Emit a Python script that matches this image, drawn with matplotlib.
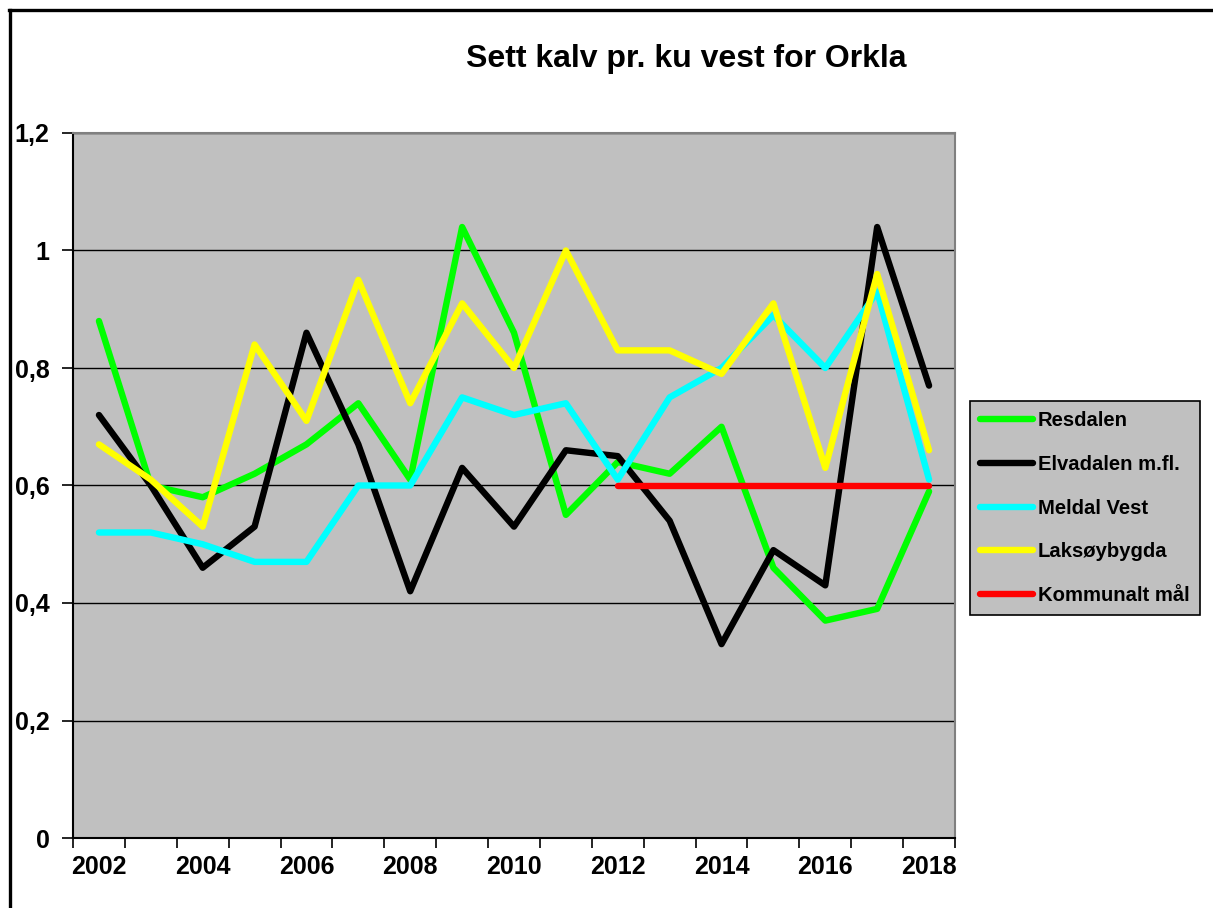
import matplotlib
matplotlib.use("Agg")
from matplotlib import pyplot as plt
from matplotlib.lines import Line2D
from matplotlib.ticker import MultipleLocator, FixedLocator, FuncFormatter
import numpy as np

years = list(range(2002, 2019))
resdalen = [0.88, 0.60, 0.58, 0.62, 0.67, 0.74, 0.61, 1.04, 0.86, 0.55, 0.64, 0.62, 0.70, 0.46, 0.37, 0.39, 0.59]
elvadalen = [0.72, 0.60, 0.46, 0.53, 0.86, 0.67, 0.42, 0.63, 0.53, 0.66, 0.65, 0.54, 0.33, 0.49, 0.43, 1.04, 0.77]
meldal_vest = [0.52, 0.52, 0.50, 0.47, 0.47, 0.60, 0.60, 0.75, 0.72, 0.74, 0.61, 0.75, 0.80, 0.89, 0.80, 0.93, 0.61]
laksoybygda = [0.67, 0.61, 0.53, 0.84, 0.71, 0.95, 0.74, 0.91, 0.80, 1.00, 0.83, 0.83, 0.79, 0.91, 0.63, 0.96, 0.66]
maal_years = list(range(2012, 2019))
maal = [0.60, 0.60, 0.60, 0.60, 0.60, 0.60, 0.60]

series = [
    ("Resdalen", years, resdalen, "#00FF00"),
    ("Elvadalen m.fl.", years, elvadalen, "#000000"),
    ("Meldal Vest", years, meldal_vest, "#00FFFF"),
    ("Laksøybygda", years, laksoybygda, "#FFFF00"),
    ("Kommunalt mål", maal_years, maal, "#FF0000"),
]

plt.rcParams['font.family'] = ['Liberation Sans', 'DejaVu Sans']
plt.rcParams['font.weight'] = 'bold'

W, H = 1213, 908
fig = plt.figure(figsize=(W / 100, H / 100), dpi=100)
ax = fig.add_axes([73 / W, 1 - 838 / H, (955 - 73) / W, (838 - 133) / H])
ax.set_facecolor("#C0C0C0")

for name, xs, ys, col in series:
    ax.plot(xs, ys, color=col, lw=4.6, label=name, solid_capstyle='round', solid_joinstyle='round')

ax.set_xlim(2001.5, 2018.5)
ax.set_ylim(0, 1.2)

# y axis
ax.yaxis.set_major_locator(MultipleLocator(0.2))
ax.yaxis.set_major_formatter(FuncFormatter(lambda v, p: ("%g" % round(v, 1)).replace(".", ",")))
ax.grid(axis='y', color='black', lw=1.0)
ax.set_axisbelow(True)

# x axis: tick marks between categories, labels every 2nd year
ax.xaxis.set_major_locator(FixedLocator(np.arange(2001.5, 2019, 1.0)))
ax.xaxis.set_major_formatter(FuncFormatter(lambda v, p: ""))
ax.xaxis.set_minor_locator(FixedLocator(years[::2]))
ax.xaxis.set_minor_formatter(FuncFormatter(lambda v, p: "%d" % v))
ax.tick_params(axis='x', which='major', direction='out', length=7, width=1.2, color='black')
ax.tick_params(axis='x', which='minor', length=0, pad=12, labelsize=18)
ax.tick_params(axis='y', direction='out', length=8, width=1.2, pad=9, labelsize=18)

for side in ['left', 'bottom']:
    ax.spines[side].set_color('black')
    ax.spines[side].set_linewidth(1.5)
for side in ['top', 'right']:
    ax.spines[side].set_color('#808080')
    ax.spines[side].set_linewidth(1.5)

fig.text(686 / W, 1 - 59 / H, "Sett kalv pr. ku vest for Orkla", ha='center', va='center',
         fontsize=23, fontweight='bold')

leg = ax.legend(loc='upper left', bbox_to_anchor=(970 / W, 1 - 401 / H), bbox_transform=fig.transFigure,
                fancybox=False, framealpha=1, facecolor="#C0C0C0", edgecolor='black',
                prop={'size': 14.6, 'weight': 'bold'}, handlelength=2.6, handletextpad=0.25,
                labelspacing=1.22, borderpad=0.5, borderaxespad=0)
leg.get_frame().set_linewidth(1.2)

# outer frame (top and left edge)
fig.add_artist(Line2D([9.5 / W, 9.5 / W], [0, 1 - 9.5 / H], color='black', lw=2.4, transform=fig.transFigure))
fig.add_artist(Line2D([8.5 / W, 1], [1 - 9.5 / H, 1 - 9.5 / H], color='black', lw=2.4, transform=fig.transFigure))

fig.savefig("out.png", dpi=100)
